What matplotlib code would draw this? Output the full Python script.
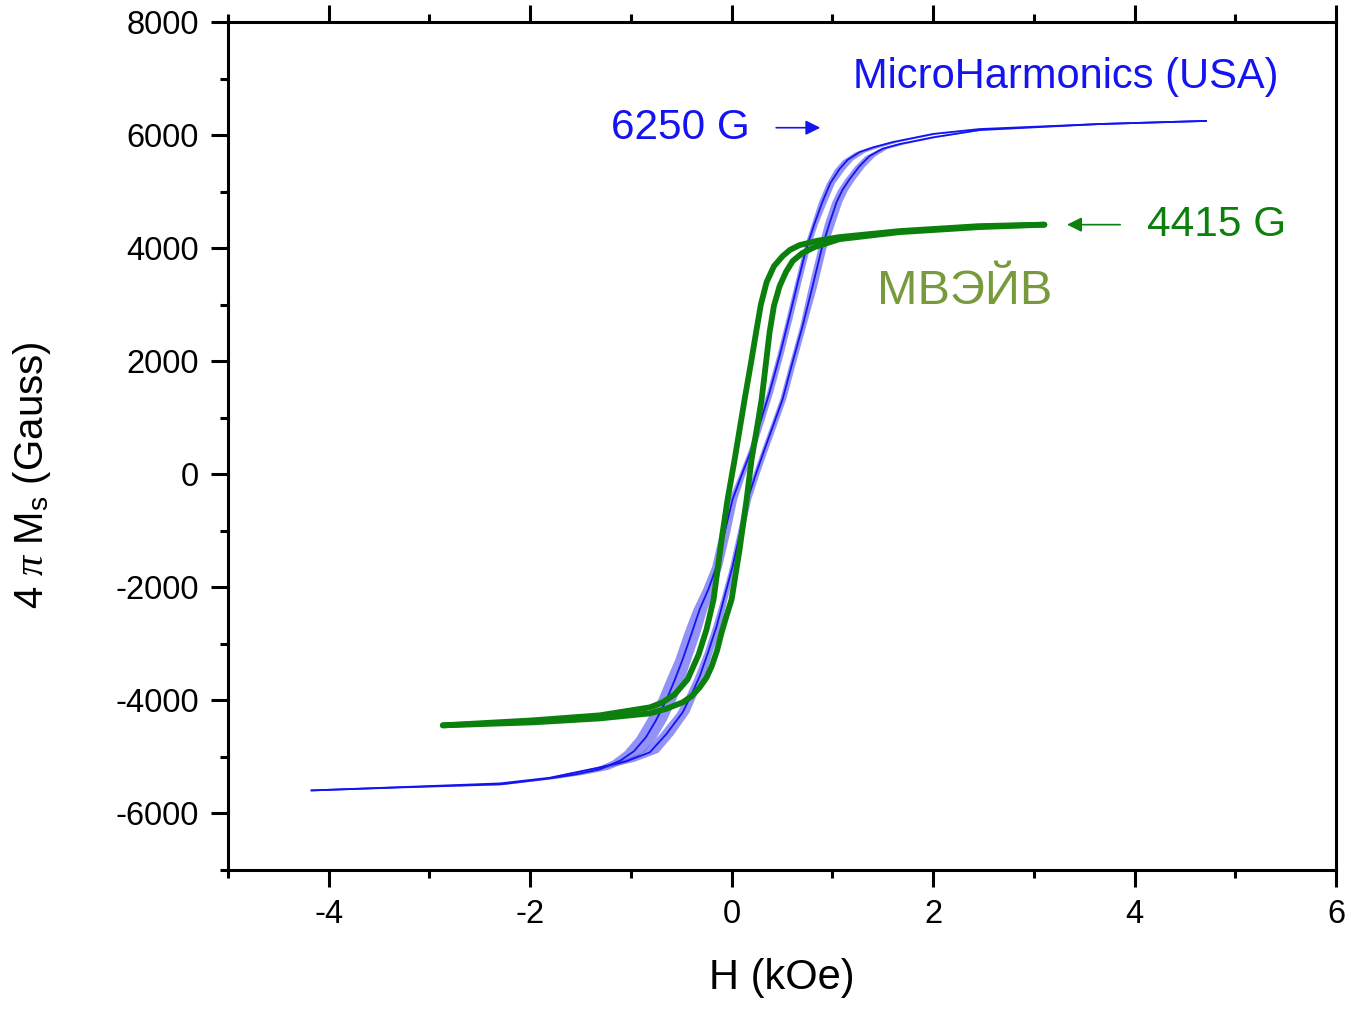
import numpy as np
import matplotlib
matplotlib.use("Agg")
import matplotlib.pyplot as plt
from matplotlib.ticker import MultipleLocator

plt.rcParams['font.family'] = ['Liberation Sans', 'DejaVu Sans']
plt.rcParams['axes.unicode_minus'] = False
plt.rcParams['mathtext.fontset'] = 'custom'
plt.rcParams['mathtext.rm'] = 'Liberation Sans'
plt.rcParams['mathtext.it'] = 'Liberation Serif:italic'

# MicroHarmonics loop, H in kOe, 4piMs in Gauss
mh_down_h = [4.71, 3.65, 2.46, 2.0, 1.60, 1.40, 1.27, 1.15, 1.07, 0.98, 0.90, 0.82,
             0.74, 0.66, 0.575, 0.48, 0.377, 0.29, 0.198, 0.10, 0.01, -0.07, -0.149,
             -0.23, -0.317, -0.40, -0.486, -0.565, -0.645, -0.75, -0.85, -0.97, -1.10,
             -1.31, -1.55, -1.81, -2.30, -3.29, -4.17]
mh_down_m = [6250, 6195, 6106, 6020, 5876, 5780, 5699, 5560, 5398, 5150, 4814, 4420,
             3982, 3420, 2796, 2120, 1451, 950, 442, -10, -442, -1030, -1628,
             -2030, -2389, -2830, -3274, -3640, -3982, -4350, -4650, -4900, -5060,
             -5221, -5310, -5381, -5487, -5540, -5593]
mh_down_spread = [0.0, 0.01, 0.02, 0.03, 0.04, 0.05, 0.05, 0.05, 0.05, 0.04, 0.04, 0.03,
                  0.03, 0.03, 0.03, 0.03, 0.03, 0.03, 0.03, 0.03, 0.04, 0.05, 0.05,
                  0.06, 0.07, 0.08, 0.08, 0.09, 0.09, 0.10, 0.10, 0.10, 0.09,
                  0.08, 0.07, 0.06, 0.04, 0.02, 0.0]

mh_up_h = [-4.17, -3.29, -2.30, -1.81, -1.31, -1.05, -0.813, -0.65, -0.486, -0.40,
           -0.317, -0.23, -0.149, -0.07, 0.01, 0.085, 0.159, 0.24, 0.327, 0.42,
           0.506, 0.60, 0.704, 0.80, 0.893, 0.97, 1.042, 1.10, 1.171, 1.27, 1.369,
           1.50, 1.667, 2.0, 2.46, 3.65, 4.71]
mh_up_m = [-5593, -5535, -5469, -5370, -5186, -5080, -4920, -4600, -4212, -3900,
           -3575, -3130, -2690, -2160, -1628, -1030, -442, 0, 442, 900,
           1327, 1950, 2619, 3300, 3982, 4430, 4814, 5030, 5221, 5450, 5628,
           5760, 5841, 5960, 6088, 6195, 6250]
mh_up_spread = [0.0, 0.02, 0.03, 0.05, 0.07, 0.08, 0.08, 0.07, 0.06, 0.05,
                0.05, 0.04, 0.04, 0.03, 0.03, 0.03, 0.03, 0.03, 0.03, 0.03,
                0.03, 0.03, 0.03, 0.04, 0.04, 0.05, 0.05, 0.05, 0.05, 0.05, 0.05,
                0.04, 0.04, 0.03, 0.02, 0.01, 0.0]

# MWAVE loop
mw_down_h = [3.105, 2.46, 1.667, 1.071, 0.85, 0.675, 0.58, 0.506, 0.42, 0.347, 0.29,
             0.248, 0.19, 0.129, 0.08, 0.03, -0.04, -0.089, -0.135, -0.179, -0.25,
             -0.327, -0.437, -0.565, -0.69, -0.813, -1.31, -1.974, -2.867]
mw_down_m = [4415, 4389, 4301, 4195, 4130, 4053, 3970, 3858, 3680, 3398, 3000,
             2566, 1950, 1327, 800, 265, -442, -1027, -1620, -2212, -2750,
             -3186, -3628, -3894, -4040, -4124, -4265, -4354, -4442]
mw_up_h = [-2.867, -1.974, -1.31, -0.813, -0.65, -0.486, -0.40, -0.317, -0.25, -0.198,
           -0.145, -0.099, -0.05, 0.0, 0.079, 0.149, 0.198, 0.25, 0.298, 0.377,
           0.42, 0.476, 0.54, 0.605, 0.70, 0.823, 1.071, 1.667, 2.46, 3.105]
mw_up_m = [-4442, -4389, -4319, -4230, -4150, -4035, -3930, -3770, -3600, -3398,
           -3120, -2796, -2500, -2212, -1327, -442, 265, 800, 1327, 2513,
           2980, 3327, 3580, 3770, 3910, 4018, 4159, 4283, 4372, 4415]

blue = '#1414f0'
green = '#0c800c'

fig = plt.figure(figsize=(13.54, 10.09), dpi=100)
ax = fig.add_axes([0.1684, 0.1378, 0.8183, 0.8404])

for h, m, s in [(mh_down_h, mh_down_m, mh_down_spread), (mh_up_h, mh_up_m, mh_up_spread)]:
    h = np.array(h)
    s = np.array(s)
    ax.fill_betweenx(m, h - s, h + s, color='#4a4af2', alpha=0.6, lw=0)
    ax.plot(h, m, color=blue, lw=1.3)

ax.plot(mw_down_h, mw_down_m, color=green, lw=4.2, solid_capstyle='round')
ax.plot(mw_up_h, mw_up_m, color=green, lw=4.2, solid_capstyle='round')

ax.set_xlim(-5, 6)
ax.set_ylim(-7000, 8000)
ax.xaxis.set_major_locator(MultipleLocator(2))
ax.xaxis.set_minor_locator(MultipleLocator(1))
ax.yaxis.set_major_locator(MultipleLocator(2000))
ax.yaxis.set_minor_locator(MultipleLocator(1000))
ax.tick_params(which='both', direction='out', width=2.2, top=True, right=False,
               labeltop=False, labelsize=23.5, color='black')
ax.tick_params(which='major', length=12)
ax.tick_params(which='minor', length=6)
ax.tick_params(axis='x', which='major', pad=9)
ax.tick_params(axis='y', which='major', pad=9)
for sp in ax.spines.values():
    sp.set_linewidth(2.2)

ax.set_xlabel('H (kOe)', fontsize=30)
ax.set_ylabel(r'4 $\pi$ M$_\mathrm{s}$ (Gauss)', fontsize=29)
ax.xaxis.set_label_coords(0.5, -0.104)
ax.yaxis.set_label_coords(-0.158, 0.466)

ax.text(5.43, 7020, 'MicroHarmonics (USA)', color=blue, fontsize=30, ha='right', va='center')
ax.annotate('6250 G', xy=(0.88, 6130), xytext=(0.18, 6130), color=blue, fontsize=30.5,
            ha='right', va='center',
            arrowprops=dict(arrowstyle='-|>', color=blue, lw=1.2, mutation_scale=22,
                            shrinkA=17, shrinkB=0))
ax.annotate('4415 G', xy=(3.33, 4415), xytext=(4.12, 4415), color=green, fontsize=30.5,
            ha='left', va='center',
            arrowprops=dict(arrowstyle='-|>', color=green, lw=1.2, mutation_scale=22,
                            shrinkA=17, shrinkB=0))
ax.text(2.31, 3239, 'МВЭЙВ', color='#789a3c', fontsize=35, ha='center', va='center')

fig.savefig('out.png', dpi=100)
